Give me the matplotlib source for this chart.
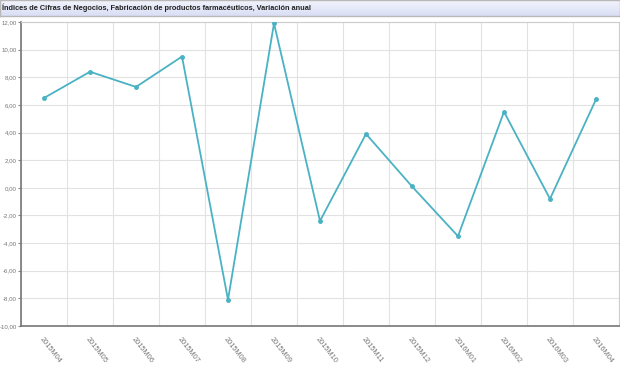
import numpy as np
import matplotlib.pyplot as plt
from matplotlib.ticker import FuncFormatter

# data
periodos = ['2015M04', '2015M05', '2015M06', '2015M07', '2015M08', '2015M09', '2015M10',
            '2015M11', '2015M12', '2016M01', '2016M02', '2016M03', '2016M04']
variacion = [6.5, 8.4, 7.3, 9.5, -8.1, 11.9, -2.4, 3.9, 0.1, -3.5, 5.5, -0.8, 6.4]
titulo = 'Índices de Cifras de Negocios, Fabricación de productos farmacéuticos, Variación anual'

fig = plt.figure(figsize=(6.2, 3.68), dpi=100)

# title bar with a light gradient
bar = fig.add_axes([0.0, 1 - 16 / 368, 1.0, 16 / 368])
grad = np.linspace(0, 1, 50).reshape(-1, 1)
top = np.array([0.95, 0.96, 0.99])
bot = np.array([0.85, 0.87, 0.96])
img = top + (bot - top) * grad[:, :, None]
bar.imshow(img, aspect='auto', extent=[0, 1, 0, 1])
bar.set_xlim(0, 1)
bar.set_ylim(0, 1)
bar.set_xticks([])
bar.set_yticks([])
for s in bar.spines.values():
    s.set_color('#b8b8b8')
    s.set_linewidth(1)
bar.text(0.004, 0.5, titulo, fontsize=5.3, fontweight='bold', color='#222222',
         va='center', ha='left', family='Liberation Sans')

ax = fig.add_axes([21 / 620, 1 - 326 / 368, 598 / 620, 304 / 368])
x = np.arange(len(periodos))
ax.plot(x, variacion, color='#4ab2c3', lw=1.3, marker='o', markersize=2.5, zorder=3)

ax.set_xlim(-0.5, len(periodos) - 0.5)
ax.set_ylim(-10, 12)
ax.set_yticks(np.arange(-10, 13, 2))
ax.yaxis.set_major_formatter(FuncFormatter(lambda v, p: f'{v:.2f}'.replace('.', ',')))
ax.set_xticks(x)
ax.set_xticklabels(periodos, rotation=-52, ha='left', va='top', rotation_mode='anchor',
                   fontsize=5.3, color='#777777', family='Liberation Sans')
for lab in ax.get_yticklabels():
    lab.set_family('Liberation Sans')
ax.set_xticks(np.arange(-0.5, len(periodos), 1), minor=True)
ax.grid(False)
ax.grid(True, which='minor', axis='x', color='#e2e2e2', lw=0.8)
ax.grid(True, which='major', axis='y', color='#e2e2e2', lw=0.8)
ax.tick_params(axis='x', which='both', length=0, pad=7)
ax.tick_params(axis='y', length=2, width=0.8, color='#888888', labelsize=4.4,
               labelcolor='#777777', pad=1)
for side in ['left', 'bottom']:
    ax.spines[side].set_color('#777777')
    ax.spines[side].set_linewidth(1.2)
for side in ['top', 'right']:
    ax.spines[side].set_color('#cccccc')
    ax.spines[side].set_linewidth(0.8)

fig.savefig('out.png', dpi=100)
